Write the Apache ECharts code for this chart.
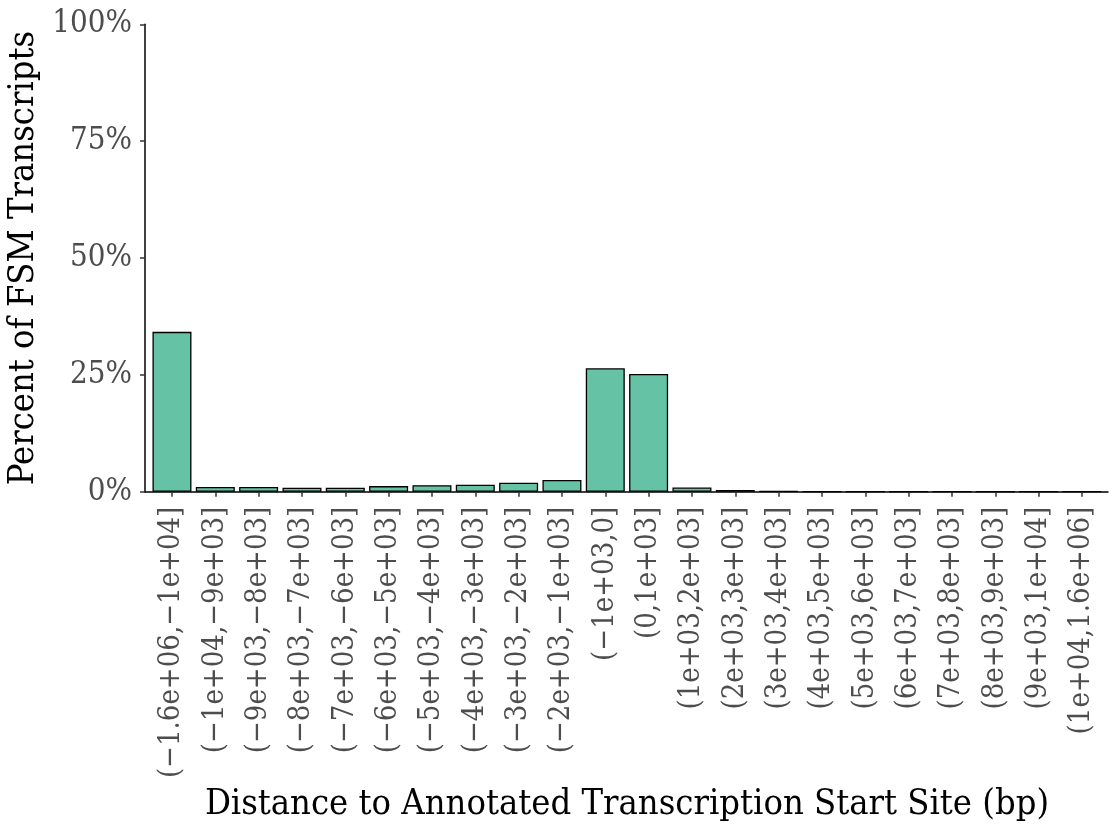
<!DOCTYPE html>
<html>
<head>
<meta charset="utf-8">
<script src="https://cdn.jsdelivr.net/npm/echarts@6/dist/echarts.min.js"></script>
<style>
  html, body { margin: 0; padding: 0; background: #fff; }
  #chart { width: 1113px; height: 825px; }
</style>
</head>
<body>
<div id="chart"></div>
<script>
// Distance bins relative to the annotated TSS
const categories = [
  '(−1.6e+06,−1e+04]', '(−1e+04,−9e+03]', '(−9e+03,−8e+03]', '(−8e+03,−7e+03]',
  '(−7e+03,−6e+03]', '(−6e+03,−5e+03]', '(−5e+03,−4e+03]', '(−4e+03,−3e+03]',
  '(−3e+03,−2e+03]', '(−2e+03,−1e+03]', '(−1e+03,0]', '(0,1e+03]',
  '(1e+03,2e+03]', '(2e+03,3e+03]', '(3e+03,4e+03]', '(4e+03,5e+03]',
  '(5e+03,6e+03]', '(6e+03,7e+03]', '(7e+03,8e+03]', '(8e+03,9e+03]',
  '(9e+03,1e+04]', '(1e+04,1.6e+06]'
];

// Percent of FSM transcripts in each bin
const percentValues = [
  34.2, 1.0, 1.0, 0.86, 0.86, 1.2, 1.4, 1.5, 1.9, 2.5, 26.4, 25.2,
  0.9, 0.35, 0.1, 0, 0, 0, 0, 0, 0, 0
];

const yTicks = [0, 25, 50, 75, 100];

const FONT = '"DejaVu Serif Condensed", "DejaVu Serif", serif';
const chart = echarts.init(document.getElementById('chart'), null, { renderer: 'canvas' });

chart.setOption({
  animation: false,
  backgroundColor: '#ffffff',
  textStyle: { fontFamily: FONT },
  grid: [
    // bar grid: category bands inset by the discrete-axis expansion
    { left: 150.3, right: 9.4, top: 24.3, bottom: 333.3, outerBoundsMode: 'none', containLabel: false },
    // full-width grid carrying the x baseline
    { left: 145, right: 5, top: 24.3, bottom: 333.3, outerBoundsMode: 'none', containLabel: false }
  ],
  xAxis: [
    {
      type: 'category',
      gridIndex: 0,
      data: categories,
      axisLine: { show: false },
      axisTick: { show: true, alignWithLabel: true, length: 5, lineStyle: { color: '#333333', width: 1.5 } },
      axisLabel: {
        rotate: 90, interval: 0, margin: 15,
        color: '#4d4d4d', fontFamily: FONT, fontSize: 29
      },
      name: 'Distance to Annotated Transcription Start Site (bp)',
      nameLocation: 'middle',
      nameGap: 295,
      nameTextStyle: { color: '#000000', fontFamily: FONT, fontSize: 36 }
    },
    {
      type: 'value',
      gridIndex: 1,
      min: 0, max: 1,
      axisLine: { show: true, onZero: false, lineStyle: { color: '#000000', width: 1.5 } },
      axisTick: { show: false },
      axisLabel: { show: false },
      splitLine: { show: false }
    }
  ],
  yAxis: [
    {
      type: 'value',
      gridIndex: 0,
      min: 0, max: 100, interval: 25,
      offset: 5.3,
      axisLine: { show: true, lineStyle: { color: '#000000', width: 1.5 } },
      axisTick: { show: true, length: 5, lineStyle: { color: '#333333', width: 1.5 } },
      axisLabel: {
        margin: 13, color: '#4d4d4d', fontFamily: FONT, fontSize: 31,
        formatter: v => (yTicks.includes(v) ? v + '%' : '')
      },
      splitLine: { show: false },
      name: 'Percent of FSM Transcripts',
      nameLocation: 'middle',
      nameRotate: 90,
      nameGap: 100,
      nameTextStyle: { color: '#000000', fontFamily: FONT, fontSize: 36 }
    },
    {
      type: 'value',
      gridIndex: 1,
      show: false
    }
  ],
  series: [
    {
      type: 'bar',
      xAxisIndex: 0,
      yAxisIndex: 0,
      data: percentValues,
      barWidth: '90%',
      itemStyle: { color: '#66c2a5', borderColor: '#000000', borderWidth: 1.3 }
    }
  ]
});
</script>
</body>
</html>
